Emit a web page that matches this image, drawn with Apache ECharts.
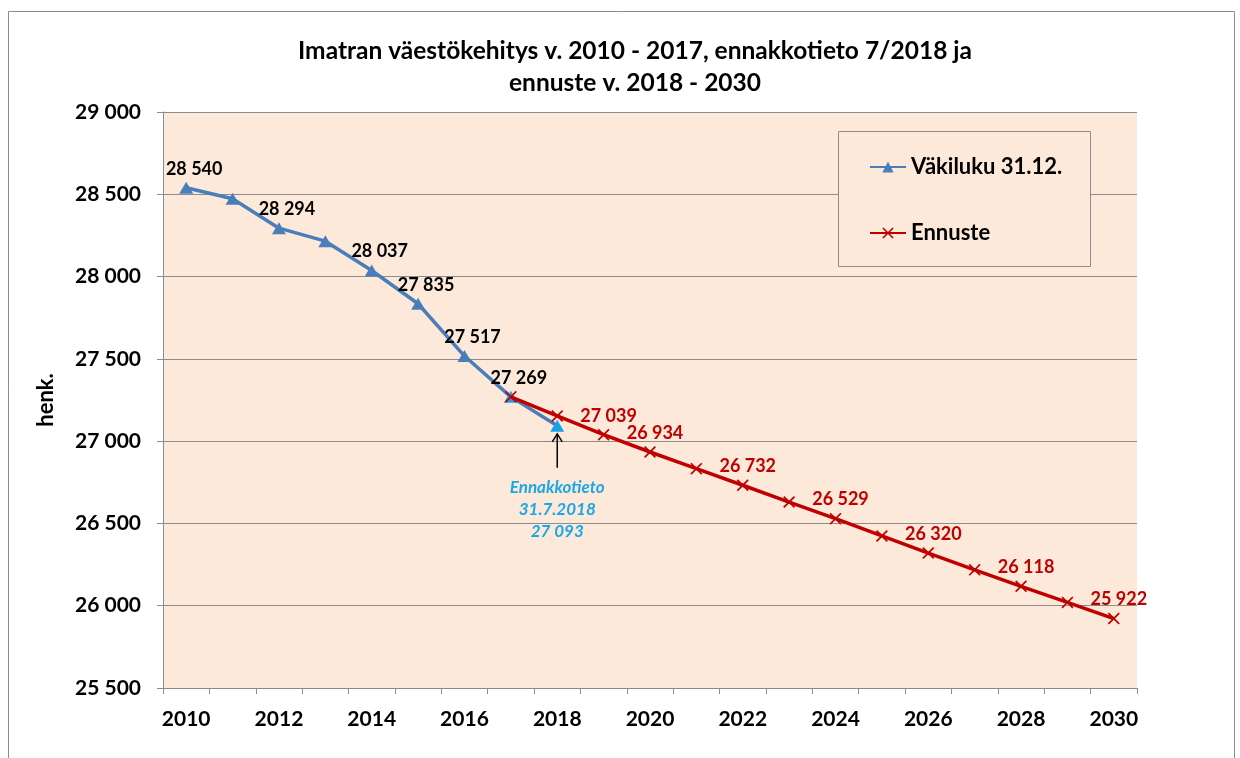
<!DOCTYPE html>
<html>
<head>
<meta charset="utf-8">
<script src="https://cdn.jsdelivr.net/npm/echarts@6/dist/echarts.min.js"></script>
<style>
html,body{margin:0;padding:0;background:#fff;}
#chart{width:1240px;height:758px;}
</style>
</head>
<body>
<div id="chart"></div>
<script>
// ---- data ----
const years = ['2010','2011','2012','2013','2014','2015','2016','2017','2018','2019','2020','2021','2022','2023','2024','2025','2026','2027','2028','2029','2030'];
const vakiluku = [28540, 28473, 28294, 28215, 28037, 27835, 27517, 27269, 27093, null, null, null, null, null, null, null, null, null, null, null, null];
const ennuste = [null, null, null, null, null, null, null, 27269, 27153, 27039, 26934, 26833, 26732, 26630, 26529, 26424, 26320, 26218, 26118, 26020, 25922];
const vakilukuLabelled = ['2010','2012','2014','2015','2016','2017'];
const ennusteLabelled = ['2019','2020','2022','2024','2026','2028','2030'];
const highlightYears = ['2017','2018'];
const annotationYear = '2018';
const annotationLines = ['Ennakkotieto', '31.7.2018', '27 093'];
const yTicks = {min: 25500, max: 29000, step: 500};
const titleText = 'Imatran väestökehitys v. 2010 - 2017, ennakkotieto 7/2018 ja\nennuste v. 2018 - 2030';

const FONT = 'Lato';
const fmt = v => String(v).replace(/\B(?=(\d{3})+(?!\d))/g, ' ');
const crossPath = 'path://M0,1L1,0L5,4L9,0L10,1L6,5L10,9L9,10L5,6L1,10L0,9L4,5Z';

const blueData = vakiluku.map((v, i) => {
  if (v === null) return null;
  const item = {value: v};
  if (vakilukuLabelled.includes(years[i])) item.label = {show: true};
  if (highlightYears.includes(years[i])) item.itemStyle = {color: '#1BA1E6'};
  return item;
});
const redData = ennuste.map((v, i) => {
  if (v === null) return null;
  const item = {value: v};
  if (ennusteLabelled.includes(years[i])) item.label = {show: true};
  return item;
});

const chart = echarts.init(document.getElementById('chart'), null, {renderer: 'canvas'});
const option = {
  animation: false,
  backgroundColor: '#ffffff',
  textStyle: {fontFamily: FONT},
  title: {
    text: titleText,
    left: 630,
    textAlign: 'center',
    top: 30,
    textStyle: {fontFamily: FONT, fontWeight: 'bold', fontSize: 24.5, lineHeight: 32, color: '#000'}
  },
  grid: {left: 163, right: 103, top: 112, bottom: 70, show: true, backgroundColor: '#FDE9D9', borderWidth: 0},
  legend: {
    orient: 'vertical',
    left: 869,
    top: 156,
    padding: 0,
    itemWidth: 36,
    itemHeight: 14,
    itemGap: 44,
    textStyle: {fontFamily: FONT, fontWeight: 'bold', fontSize: 22, color: '#000', lineHeight: 22},
    data: ['Väkiluku 31.12.', 'Ennuste']
  },
  xAxis: {
    type: 'category',
    data: years,
    boundaryGap: true,
    axisLine: {lineStyle: {color: '#8c8c8c', width: 1}},
    axisTick: {show: true, interval: 0, length: 6, lineStyle: {color: '#8c8c8c'}},
    axisLabel: {interval: 1, margin: 21, fontFamily: FONT, fontWeight: 'bold', fontSize: 21, color: '#000'},
    splitLine: {show: false}
  },
  yAxis: {
    type: 'value',
    min: yTicks.min,
    max: yTicks.max,
    interval: yTicks.step,
    name: 'henk.',
    nameLocation: 'middle',
    nameRotate: 90,
    nameGap: 106,
    nameTextStyle: {fontFamily: FONT, fontWeight: 'bold', fontSize: 22, color: '#000'},
    axisLine: {show: true, lineStyle: {color: '#8c8c8c', width: 1}},
    axisTick: {show: true, length: 6, lineStyle: {color: '#8c8c8c'}},
    axisLabel: {margin: 22, fontFamily: FONT, fontWeight: 'bold', fontSize: 21, color: '#000', formatter: fmt},
    splitLine: {show: true, lineStyle: {color: '#8c8c8c', width: 1}}
  },
  series: [
    {
      name: 'Väkiluku 31.12.',
      type: 'line',
      data: blueData,
      connectNulls: false,
      symbol: 'triangle',
      symbolSize: [14, 12],
      lineStyle: {color: '#4A7EBB', width: 3.5},
      itemStyle: {color: '#4A7EBB'},
      label: {show: false, position: 'top', distance: 4, offset: [8, 0], fontFamily: FONT, fontWeight: 'bold', fontSize: 18, color: '#000', formatter: p => fmt(p.value)},
      z: 2
    },
    {
      name: 'Ennuste',
      type: 'line',
      data: redData,
      symbol: crossPath,
      symbolSize: 12,
      lineStyle: {color: '#C00000', width: 3.5},
      itemStyle: {color: '#C00000'},
      label: {show: false, position: 'top', distance: 4, offset: [5, 0], fontFamily: FONT, fontWeight: 'bold', fontSize: 18, color: '#C00000', formatter: p => fmt(p.value)},
      z: 3
    }
  ]
};
chart.setOption(option);

function addGraphics() {
  const idx = years.indexOf(annotationYear);
  const pt = chart.convertToPixel({gridIndex: 0}, [idx, vakiluku[idx]]);
  const x = pt[0], y = pt[1];
  const elements = [
    // outer chart frame
    {type: 'rect', shape: {x: 8.5, y: 11.5, width: 1226, height: 800}, style: {fill: 'none', stroke: '#8c8c8c', lineWidth: 1}, silent: true, z: 0},
    // legend box
    {type: 'rect', shape: {x: 838.5, y: 131.5, width: 252, height: 135}, style: {fill: '#FDE9D9', stroke: '#8c8c8c', lineWidth: 1}, silent: true, z: 1},
    // arrow
    {type: 'line', shape: {x1: x, y1: y + 42, x2: x, y2: y + 8}, style: {stroke: '#000', lineWidth: 1.5}, z: 10},
    {type: 'polyline', shape: {points: [[x - 5, y + 16], [x, y + 8], [x + 5, y + 16]]}, style: {stroke: '#000', lineWidth: 1.5, fill: 'none'}, z: 10}
  ];
  annotationLines.forEach((t, i) => {
    elements.push({
      type: 'text', x: x, y: y + 62 + i * 22, z: 10,
      style: {text: t, fill: '#1AA7E8', font: 'italic bold 17px ' + FONT, align: 'center', verticalAlign: 'middle'}
    });
  });
  chart.setOption({graphic: {elements: elements}});
}
addGraphics();
</script>
</body>
</html>
